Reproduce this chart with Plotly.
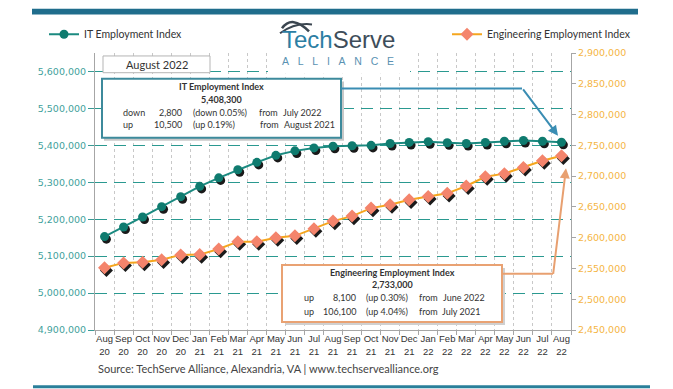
import plotly.graph_objects as go

months = ["Aug", "Sep", "Oct", "Nov", "Dec", "Jan", "Feb", "Mar", "Apr", "May", "Jun", "Jul",
          "Aug", "Sep", "Oct", "Nov", "Dec", "Jan", "Feb", "Mar", "Apr", "May", "Jun", "Jul", "Aug"]
years = ["20", "20", "20", "20", "20", "21", "21", "21", "21", "21", "21", "21",
         "21", "21", "21", "21", "21", "22", "22", "22", "22", "22", "22", "22", "22"]
it_index = [5153000, 5179000, 5206000, 5234000, 5261000, 5289000, 5312000, 5334000, 5354000,
            5373000, 5385000, 5393000, 5397800, 5399000, 5400000, 5405000, 5408000, 5410000,
            5407000, 5405000, 5408000, 5411000, 5413000, 5411100, 5408300]
eng_index = [2551000, 2559000, 2560000, 2564000, 2572000, 2572500, 2581500, 2593500, 2593500,
             2600000, 2603000, 2614500, 2626900, 2635000, 2648000, 2653500, 2661500, 2667000,
             2672000, 2684000, 2699000, 2704000, 2714000, 2724900, 2733000]
left_ticks = [4900000, 5000000, 5100000, 5200000, 5300000, 5400000, 5500000, 5600000]
right_ticks = [2450000, 2500000, 2550000, 2600000, 2650000, 2700000, 2750000, 2800000, 2850000, 2900000]

W, H = 673, 389
OFF = 8  # page body margin
L, R, T, B = 95, 571, 49, 330  # plot area in page pixels


def PX(x):
    return (x - L) / (R - L)


def PY(y):
    return (B - y) / (B - T)


xs = list(range(len(months)))
ticktext = [m + "<br>" + y for m, y in zip(months, years)]

IT_LINE = "#1b8a80"
IT_MARK = "#0f7b6f"
ENG_LINE = "#f5a61e"
ENG_MARK = "#f4846c"
TXT = "#333333"
FONT = "Lato"

fig = go.Figure()

# marker shadows
sx = [x + 0.1 for x in xs]
fig.add_trace(go.Scatter(x=sx, y=[v - 7000 for v in it_index], mode="markers",
                         marker=dict(symbol="circle", size=9, color="#1a1a1a"),
                         showlegend=False, hoverinfo="skip"))
fig.add_trace(go.Scatter(x=sx, y=[v - 4200 for v in eng_index], mode="markers", yaxis="y2",
                         marker=dict(symbol="diamond", size=10, color="#1a1a1a"),
                         showlegend=False, hoverinfo="skip"))

fig.add_trace(go.Scatter(x=xs, y=it_index, mode="lines+markers", name="IT Employment Index",
                         line=dict(color=IT_LINE, width=2),
                         marker=dict(symbol="circle", size=9, color=IT_MARK),
                         legend="legend"))
fig.add_trace(go.Scatter(x=xs, y=eng_index, mode="lines+markers", name="Engineering Employment Index",
                         yaxis="y2", line=dict(color=ENG_LINE, width=2),
                         marker=dict(symbol="diamond", size=10, color=ENG_MARK),
                         legend="legend2"))

shapes = []
annotations = []

# top and bottom bars
shapes.append(dict(type="rect", xref="paper", yref="paper", x0=PX(32), x1=PX(638), y0=PY(10), y1=PY(4),
                   fillcolor="#1f6d8c", line=dict(width=0), layer="above"))
shapes.append(dict(type="rect", xref="paper", yref="paper", x0=PX(33), x1=PX(650), y0=PY(389), y1=PY(386),
                   fillcolor="#2a7f9a", line=dict(width=0), layer="above"))

# logo background
shapes.append(dict(type="rect", xref="paper", yref="paper", x0=PX(268), x1=PX(410), y0=PY(70), y1=PY(14),
                   fillcolor="white", line=dict(width=0), layer="above"))


def P(x, y):
    return f"{PX(x):.5f},{PY(y):.5f}"


shapes.append(dict(type="path", xref="paper", yref="paper",
                   path=f"M {P(282,24)} Q {P(292,10)} {P(309,27)}",
                   line=dict(color="#3b4650", width=2.5), layer="above"))
shapes.append(dict(type="path", xref="paper", yref="paper",
                   path=f"M {P(280,29)} Q {P(295,18)} {P(312,20)}",
                   line=dict(color="#3b4650", width=2), layer="above"))
annotations.append(dict(xref="paper", yref="paper", x=PX(338), y=PY(50), showarrow=False, borderpad=0,
                        text="<span style='color:#2c7ea3'>Tech</span><span style='color:#3e4d5a'>Serve</span>",
                        font=dict(family="Liberation Sans", size=24), xanchor="center", yanchor="bottom"))
annotations.append(dict(xref="paper", yref="paper", x=PX(338), y=PY(50), showarrow=False, borderpad=0,
                        text="\u00a0\u00a0\u00a0".join("ALLIANCE"),
                        font=dict(family="Liberation Sans", size=10.5, color="#5a92b2"),
                        xanchor="center", yanchor="top"))

# August 2022 box
shapes.append(dict(type="rect", xref="paper", yref="paper", x0=PX(103), x1=PX(210), y0=PY(69), y1=PY(52),
                   fillcolor="white", line=dict(color="#b5b5b5", width=1), layer="above"))
annotations.append(dict(xref="paper", yref="paper", x=PX(157), y=PY(61), showarrow=False,
                        xanchor="center", yanchor="middle",
                        text="August 2022", font=dict(family=FONT, size=11, color=TXT)))

# IT box
shapes.append(dict(type="rect", xref="paper", yref="paper", x0=PX(104), x1=PX(344), y0=PY(138), y1=PY(78),
                   fillcolor="#c8c8c8", line=dict(width=0), layer="above"))
shapes.append(dict(type="rect", xref="paper", yref="paper", x0=PX(102), x1=PX(341), y0=PY(135), y1=PY(75),
                   fillcolor="white", line=dict(color="#3d8a9c", width=2), layer="above"))
# Eng box
shapes.append(dict(type="rect", xref="paper", yref="paper", x0=PX(285), x1=PX(505), y0=PY(325), y1=PY(267),
                   fillcolor="#d0d0d0", line=dict(width=0), layer="above"))
shapes.append(dict(type="rect", xref="paper", yref="paper", x0=PX(282), x1=PX(502), y0=PY(322), y1=PY(264),
                   fillcolor="white", line=dict(color="#e9a273", width=2), layer="above"))


def txt(x, y, s, anchor="left", bold=False, size=9):
    annotations.append(dict(xref="paper", yref="paper", x=PX(x), y=PY(y), showarrow=False,
                            text=("<b>" + s + "</b>") if bold else s, xanchor=anchor, yanchor="middle",
                            font=dict(family=FONT, size=size, color=TXT)))


txt(221, 83, "IT Employment Index", "center", True)
txt(221, 96, "5,408,300", "center", True)
txt(121, 109, "down")
txt(184, 109, "2,800", "right")
txt(191, 109, "(down 0.05%)")
txt(257, 109, "from")
txt(281, 109, "July 2022")
txt(121, 122, "up")
txt(184, 122, "10,500", "right")
txt(191, 122, "(up 0.19%)")
txt(258, 122, "from")
txt(282, 122, "August 2021")

txt(392, 272, "Engineering Employment Index", "center", True)
txt(392, 284, "2,733,000", "center", True)
txt(302, 297, "up")
txt(358, 297, "8,100", "right")
txt(364, 297, "(up 0.30%)")
txt(417, 297, "from")
txt(441, 297, "June 2022")
txt(302, 311, "up")
txt(358, 311, "106,100", "right")
txt(364, 311, "(up 4.04%)")
txt(417, 311, "from")
txt(440, 311, "July 2021")

# arrows
shapes.append(dict(type="line", xref="paper", yref="paper", x0=PX(341), x1=PX(522), y0=PY(85), y1=PY(85),
                   line=dict(color="#3a8db3", width=2), layer="above"))
annotations.append(dict(xref="paper", yref="paper", x=PX(558), y=PY(133), ax=522 - 558, ay=85 - 133,
                        showarrow=True, arrowhead=2, arrowsize=1,
                        arrowwidth=2, arrowcolor="#3a8db3", text=""))
shapes.append(dict(type="line", xref="paper", yref="paper", x0=PX(502), x1=PX(553), y0=PY(273), y1=PY(273),
                   line=dict(color="#e8a070", width=2), layer="above"))
annotations.append(dict(xref="paper", yref="paper", x=PX(566), y=PY(166), ax=553 - 566, ay=273 - 166,
                        showarrow=True, arrowhead=2, arrowsize=1,
                        arrowwidth=2, arrowcolor="#e8a070", text=""))

# source
annotations.append(dict(xref="paper", yref="paper", x=PX(96), y=PY(369), showarrow=False, xanchor="left",
                        yanchor="middle",
                        text="Source: TechServe Alliance, Alexandria, VA | www.techservealliance.org",
                        font=dict(family=FONT, size=11, color="#444444")))

fig.update_layout(
    width=W, height=H,
    margin=dict(l=L - OFF, r=W - (R - OFF), t=T - OFF, b=H - (B - OFF), pad=0),
    paper_bgcolor="white", plot_bgcolor="white",
    showlegend=True,
    xaxis=dict(range=[-0.5, len(months) - 0.5], tickvals=xs, ticktext=ticktext, ticks="",
               showgrid=False, zeroline=False, showline=True, linecolor="#a6a6a6", linewidth=1,
               tickfont=dict(family="Liberation Sans", size=9.5, color=TXT), tickangle=0,
               minor=dict(tick0=0.5, dtick=1, ticks="outside", ticklen=4, tickcolor="#a6a6a6",
                          showgrid=True, gridcolor="#c8c8c8", griddash="dot", gridwidth=1)),
    yaxis=dict(range=[4900000, 5650000], tickvals=left_ticks, ticks="outside", ticklen=6,
               tickcolor="#3a9a94", tickformat=",d", showline=True, linecolor="#a6a6a6", linewidth=1,
               showgrid=True, gridcolor="#2a9990", griddash="12px,7px", gridwidth=1.3, zeroline=False,
               tickfont=dict(family="DejaVu Sans", size=9.5, color="#3f9f9c")),
    yaxis2=dict(range=[2450000, 2900000], tickvals=right_ticks, overlaying="y", side="right",
                ticks="outside", ticklen=4, tickcolor="#a6a6a6", tickformat=",d", showline=True,
                linecolor="#a6a6a6", linewidth=1, showgrid=False, zeroline=False,
                tickfont=dict(family="DejaVu Sans", size=9.5, color="#f5b544")),
    legend=dict(x=PX(44), y=PY(30), xanchor="left", yanchor="middle", bgcolor="rgba(0,0,0,0)",
                font=dict(family=FONT, size=10.5, color=TXT), itemwidth=30),
    legend2=dict(x=PX(447), y=PY(30), xanchor="left", yanchor="middle", bgcolor="rgba(0,0,0,0)",
                 font=dict(family=FONT, size=10.5, color=TXT), itemwidth=30),
    shapes=shapes,
    annotations=annotations,
)

fig.write_html("out.html")
